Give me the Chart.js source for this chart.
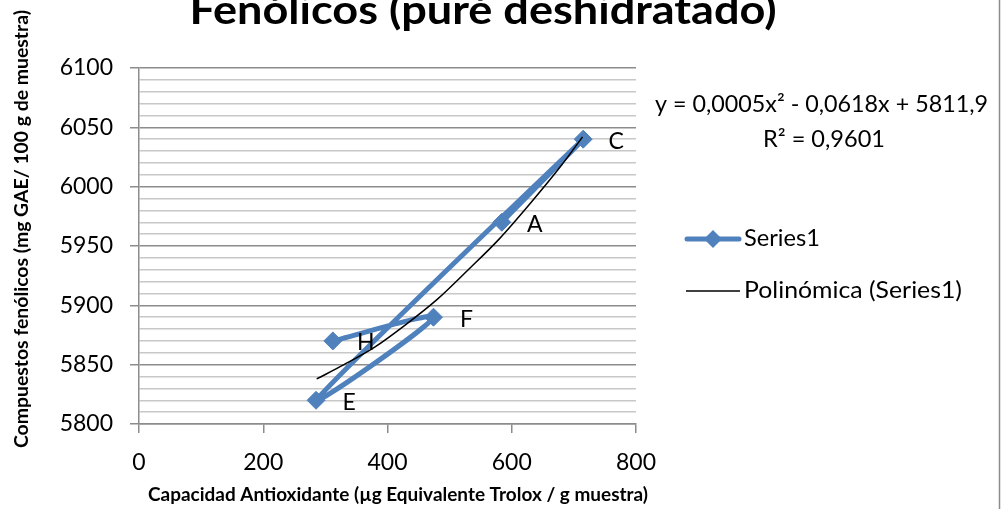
<!DOCTYPE html>
<html>
<head>
<meta charset="utf-8">
<script src="https://cdn.jsdelivr.net/npm/chart.js"></script>
<style>
  html, body { margin: 0; padding: 0; background: #fff; }
  #wrap { width: 1002px; height: 509px; position: relative; }
</style>
</head>
<body>
<div id="wrap"><canvas id="chart" width="1002" height="509"></canvas></div>
<script>
// puntos de la serie, en el orden en que Excel los une
const pointNames = ['A', 'C', 'E', 'F', 'H'];
const antioxX = [584, 715, 285, 474, 312];
const fenolY = [5970, 6040, 5820, 5890, 5870];

// curva de tendencia polinómica
const trendX = [286, 330, 380, 430, 480, 530, 580, 630, 680, 714];
const trendY = [5838, 5850, 5865, 5884, 5905, 5930, 5956, 5986, 6018, 6042];

const xTicks = [0, 200, 400, 600, 800];
const yTicks = [5800, 5850, 5900, 5950, 6000, 6050, 6100];

const titleText = 'Fenólicos (puré deshidratado)';
const xTitle = 'Capacidad Antioxidante (µg Equivalente Trolox / g muestra)';
const yTitle = 'Compuestos fenólicos (mg GAE/ 100 g de muestra)';
const eqLine1 = 'y = 0,0005x² - 0,0618x + 5811,9';
const eqLine2 = 'R² = 0,9601';
const legendNames = ['Series1', 'Polinómica (Series1)'];

const BLUE = '#4f81bd';
const FONT = 'Lato, "Open Sans", sans-serif';

// escribe un texto estirado/comprimido a un ancho dado
function fitText(ctx, txt, x, y, w, align) {
    const m = ctx.measureText(txt).width;
    ctx.save();
    ctx.translate(x, y);
    ctx.scale(w / m, 1);
    ctx.textAlign = align;
    ctx.fillText(txt, 0, 0);
    ctx.restore();
}

const decorPlugin = {
    id: 'decor',
    afterDatasetsDraw(chart) {
        const ctx = chart.ctx;
        const xs = chart.scales.x, ys = chart.scales.y;
        // etiquetas de los puntos
        ctx.save();
        ctx.fillStyle = '#000';
        ctx.font = '23px ' + FONT;
        ctx.textAlign = 'center';
        ctx.textBaseline = 'middle';
        pointNames.forEach((n, i) => {
            const px = xs.getPixelForValue(antioxX[i]);
            const py = ys.getPixelForValue(fenolY[i]);
            ctx.fillText(n, px + 33, py + 2);
        });
        ctx.restore();
    },
    afterDraw(chart) {
        const ctx = chart.ctx;
        ctx.save();
        ctx.fillStyle = '#000';
        ctx.textBaseline = 'alphabetic';

        // título (cortado arriba como en el original)
        ctx.font = 'bold 40px ' + FONT;
        fitText(ctx, titleText, 483, 24, 587, 'center');

        // títulos de ejes
        ctx.font = 'bold 19px ' + FONT;
        fitText(ctx, xTitle, 398, 501, 500, 'center');
        ctx.save();
        ctx.translate(28, 229);
        ctx.rotate(-Math.PI / 2);
        fitText(ctx, yTitle, 0, 0, 438, 'center');
        ctx.restore();

        // ecuación de la tendencia
        ctx.font = '23px ' + FONT;
        ctx.textBaseline = 'middle';
        fitText(ctx, eqLine1, 655, 105, 333, 'left');
        fitText(ctx, eqLine2, 824, 140, 122, 'center');

        // leyenda
        ctx.strokeStyle = BLUE;
        ctx.lineWidth = 5;
        ctx.lineCap = 'round';
        ctx.beginPath();
        ctx.moveTo(687, 239);
        ctx.lineTo(739, 239);
        ctx.stroke();
        ctx.fillStyle = BLUE;
        ctx.beginPath();
        ctx.moveTo(713, 230);
        ctx.lineTo(722, 239);
        ctx.lineTo(713, 248);
        ctx.lineTo(704, 239);
        ctx.closePath();
        ctx.fill();
        ctx.strokeStyle = '#000';
        ctx.lineWidth = 1.5;
        ctx.lineCap = 'butt';
        ctx.beginPath();
        ctx.moveTo(686, 291);
        ctx.lineTo(740, 291);
        ctx.stroke();
        ctx.fillStyle = '#000';
        fitText(ctx, legendNames[0], 744, 239, 76, 'left');
        fitText(ctx, legendNames[1], 744, 291, 218, 'left');

        // borde del área del gráfico
        ctx.strokeStyle = '#8c8c8c';
        ctx.lineWidth = 1.5;
        ctx.beginPath();
        ctx.moveTo(999.5, 0);
        ctx.lineTo(999.5, 509);
        ctx.stroke();
        ctx.restore();
    }
};

new Chart(document.getElementById('chart'), {
    type: 'scatter',
    data: {
        datasets: [
            {
                label: legendNames[1],
                data: trendX.map((x, i) => ({ x: x, y: trendY[i] })),
                showLine: true,
                borderColor: '#000',
                borderWidth: 1.5,
                pointRadius: 0,
                tension: 0.4,
                cubicInterpolationMode: 'monotone',
                order: 0
            },
            {
                label: legendNames[0],
                data: antioxX.map((x, i) => ({ x: x, y: fenolY[i] })),
                showLine: true,
                borderColor: BLUE,
                borderWidth: 5,
                tension: 0.25,
                pointStyle: 'rectRot',
                pointRadius: 9,
                pointBackgroundColor: BLUE,
                pointBorderColor: BLUE,
                pointBorderWidth: 1,
                order: 1
            }
        ]
    },
    options: {
        responsive: false,
        animation: false,
        devicePixelRatio: 1,
        layout: { padding: { top: 68, right: 366, left: 0, bottom: 0 } },
        plugins: {
            legend: { display: false },
            title: { display: false },
            tooltip: { enabled: false }
        },
        scales: {
            x: {
                type: 'linear',
                min: xTicks[0],
                max: xTicks[xTicks.length - 1],
                afterBuildTicks: (s) => { s.ticks = xTicks.map(v => ({ value: v })); },
                afterFit: (s) => { s.height = 85; },
                ticks: {
                    color: '#000',
                    font: { family: FONT, size: 23 },
                    padding: 16,
                    maxRotation: 0
                },
                grid: {
                    drawOnChartArea: false,
                    tickLength: 9,
                    color: '#8c8c8c',
                    lineWidth: 1.5
                },
                border: { color: '#8c8c8c', width: 1.5 }
            },
            y: {
                type: 'linear',
                min: yTicks[0],
                max: yTicks[yTicks.length - 1],
                afterFit: (s) => { s.width = 139; },
                ticks: {
                    stepSize: 10,
                    autoSkip: false,
                    color: '#000',
                    font: { family: FONT, size: 23 },
                    padding: 17,
                    callback: (v) => (yTicks.includes(v) ? v : '')
                },
                grid: {
                    tickLength: 9,
                    lineWidth: 1.5,
                    color: (c) => (yTicks.includes(c.tick.value) ? '#8c8c8c' : '#c8c8c8'),
                    tickColor: (c) => (yTicks.includes(c.tick.value) ? '#8c8c8c' : 'rgba(0,0,0,0)')
                },
                border: { color: '#8c8c8c', width: 1.5 }
            }
        }
    },
    plugins: [decorPlugin]
});
</script>
</body>
</html>
